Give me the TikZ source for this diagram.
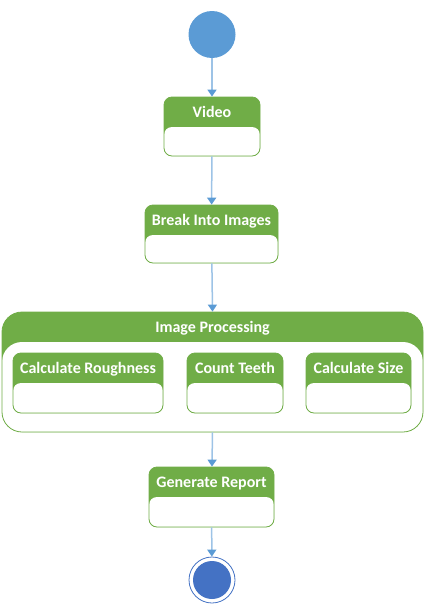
\documentclass[tikz,border=0pt]{standalone}
\usepackage{fontspec}
\setmainfont{Carlito}
\usetikzlibrary{arrows.meta}
\definecolor{actgreen}{HTML}{70AD47}
\definecolor{startblue}{HTML}{5B9BD5}
\definecolor{endblue}{HTML}{4472C4}
\definecolor{flowblue}{HTML}{9DC3E6}
\tikzset{
  act/.style={draw=actgreen, line width=0.8pt, fill=actgreen, rounded corners=8,
    path picture={\fill[white] ([yshift=-30]path picture bounding box.north west)
      rectangle (path picture bounding box.south east);}},
  hdr/.style={text=white, font=\bfseries\fontsize{16}{18}\selectfont, text height=11, text depth=1},
  flow/.style={draw=flowblue, line width=1.5pt, -{Triangle[width=9pt,length=7pt,color=startblue]}}
}
\begin{document}
\begin{tikzpicture}[x=1pt,y=-1pt]
\useasboundingbox (0,0) rectangle (424,613);
% start and end
\node[circle, fill=startblue, minimum size=47, inner sep=0] (start) at (212,34.5) {};
\node[circle, draw=endblue, fill=white, line width=0.8pt, minimum size=46, inner sep=0] (finish) at (212,580) {};
\node[circle, fill=endblue, minimum size=38, inner sep=0] (finishdot) at (finish) {};
% activities
\node[act, minimum width=96, minimum height=59] (video) at (212,126.5) {};
\node[hdr] (videot) at ([yshift=-15.5]video.north) {Video};
\node[act, minimum width=133, minimum height=58] (break) at (211.5,234) {};
\node[hdr] (breakt) at ([yshift=-15.5]break.north) {Break Into Images};
\node[act, rounded corners=20, minimum width=421, minimum height=120] (proc) at (212.5,372) {};
\node[hdr] (proct) at ([yshift=-15.5]proc.north) {Image Processing};
\node[act, minimum width=150, minimum height=60] (rough) at (88,383) {};
\node[hdr] (rought) at ([yshift=-15.5]rough.north) {Calculate Roughness};
\node[act, minimum width=96, minimum height=60] (teeth) at (235,383) {};
\node[hdr] (teetht) at ([yshift=-15.5]teeth.north) {Count Teeth};
\node[act, minimum width=105, minimum height=60] (size) at (358.5,383) {};
\node[hdr] (sizet) at ([yshift=-15.5]size.north) {Calculate Size};
\node[act, minimum width=125, minimum height=60] (report) at (211.5,497) {};
\node[hdr] (reportt) at ([yshift=-15.5]report.north) {Generate Report};
% flow
\draw[flow] (start) -- (video);
\draw[flow] (video) -- (break);
\draw[flow] (break) -- (proc.north);
\draw[flow] (proc.south) -- (report);
\draw[flow] (report) -- (finish);
\end{tikzpicture}
\end{document}
